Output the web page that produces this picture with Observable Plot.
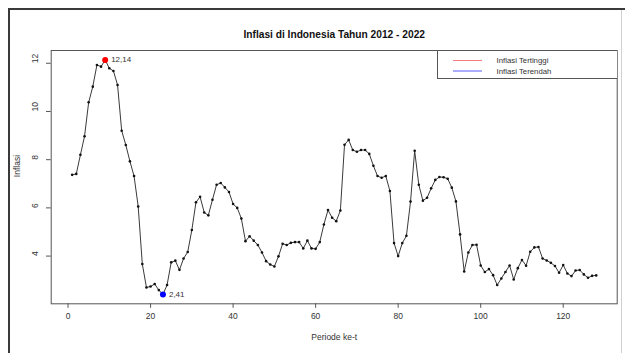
<!DOCTYPE html>
<html>
<head>
<meta charset="utf-8">
<script src="https://cdn.jsdelivr.net/npm/d3@7"></script>
<script src="https://cdn.jsdelivr.net/npm/@observablehq/plot@0.6"></script>
<style>
  html, body { margin: 0; padding: 0; background: #fff; }
  #wrap { position: relative; width: 625px; height: 353px; overflow: hidden; font-family: "Liberation Sans", Arial, sans-serif; }
  #outer { position: absolute; left: 8px; top: 8px; right: -10px; bottom: -10px; border-left: 2px solid #3a3a3a; border-top: 2px solid #3a3a3a; pointer-events: none; }
  #rline { position: absolute; left: 621px; top: 10px; width: 1px; bottom: 0; background: #d0d0d0; }
  #legend { position: absolute; left: 436.5px; top: 50px; width: 180px; height: 29px; border: 1px solid #555; border-right: none; box-sizing: border-box; background: #fff; }
  .lrow { position: absolute; left: 0; height: 11px; font-size: 7.8px; color: #333; line-height: 11px; }
  .lrow .sw { position: absolute; left: 15px; width: 29px; }
  .lrow .lt { position: absolute; left: 59px; white-space: nowrap; }
</style>
</head>
<body>
<div id="wrap">
  <div id="chart"></div>
  <div id="outer"></div>
  <div id="rline"></div>
  <div id="legend"></div>
</div>
<script>
const title = "Inflasi di Indonesia Tahun 2012 - 2022";
const xLabel = "Periode ke-t";
const yLabel = "Inflasi";
const xTicks = [0, 20, 40, 60, 80, 100, 120];
const yTicks = [4, 6, 8, 10, 12];
const legendLabels = ["Inflasi Tertinggi", "Inflasi Terendah"];
const legendColors = ["#f37c7c", "#adadff"];

const inflasi = [
  7.37, 7.41, 8.20, 8.97, 10.38, 11.03, 11.93, 11.86, 12.14, 11.79,
  11.68, 11.10, 9.20, 8.61, 7.93, 7.32, 6.06, 3.67, 2.70, 2.74,
  2.84, 2.59, 2.41, 2.80, 3.74, 3.81, 3.43, 3.90, 4.17, 5.08,
  6.23, 6.46, 5.81, 5.69, 6.34, 6.96, 7.03, 6.85, 6.66, 6.16,
  6.00, 5.56, 4.62, 4.82, 4.64, 4.46, 4.15, 3.79, 3.65, 3.57,
  3.99, 4.51, 4.46, 4.55, 4.58, 4.58, 4.32, 4.64, 4.32, 4.30,
  4.58, 5.31, 5.91, 5.59, 5.45, 5.89, 8.62, 8.82, 8.40, 8.33,
  8.40, 8.40, 8.24, 7.75, 7.32, 7.25, 7.32, 6.70, 4.54, 4.00,
  4.54, 4.84, 6.26, 8.37, 6.96, 6.30, 6.42, 6.81, 7.16, 7.28,
  7.27, 7.21, 6.84, 6.27, 4.90, 3.36, 4.15, 4.46, 4.47, 3.61,
  3.34, 3.46, 3.21, 2.80, 3.07, 3.34, 3.61, 3.03, 3.50, 3.84,
  3.60, 4.18, 4.36, 4.38, 3.90, 3.82, 3.72, 3.59, 3.31, 3.63,
  3.28, 3.17, 3.40, 3.42, 3.24, 3.10, 3.18, 3.20
];

const data = inflasi.map((v, i) => ({periode: i + 1, inflasi: v}));
const maxPt = data[d3.maxIndex(data, d => d.inflasi)];
const minPt = data[d3.minIndex(data, d => d.inflasi)];
const fmt = v => v.toFixed(2).replace(".", ",");

// R-style 4% axis extension
const xExt = d3.extent(data, d => d.periode);
const yExt = d3.extent(data, d => d.inflasi);
const xPad = (xExt[1] - xExt[0]) * 0.04;
const yPad = (yExt[1] - yExt[0]) * 0.04;

const chart = Plot.plot({
  width: 625,
  height: 353,
  marginLeft: 50.7,
  marginRight: 8.3,
  marginTop: 50,
  marginBottom: 49.7,
  style: {fontFamily: "'Liberation Sans', Arial, sans-serif", fontSize: "8.5px", color: "#333", background: "transparent"},
  x: {type: "linear", domain: [xExt[0] - xPad, xExt[1] + xPad]},
  y: {type: "linear", domain: [yExt[0] - yPad, yExt[1] + yPad]},
  marks: [
    Plot.frame({stroke: "#555", strokeWidth: 1}),
    Plot.axisX({ticks: xTicks, tickSize: 4.5, tickPadding: 5, label: null, fontSize: 8.5, stroke: "#555", fill: "#333"}),
    Plot.axisY({ticks: yTicks, tickSize: 4.7, tickFormat: () => "", label: null, stroke: "#555"}),
    Plot.text(yTicks, {y: d => d, text: d => String(d), frameAnchor: "left", dx: -15.7, rotate: -90, fontSize: 8.5, fill: "#333"}),
    Plot.line(data, {x: "periode", y: "inflasi", stroke: "#3a3a3a", strokeWidth: 1}),
    Plot.dot(data, {x: "periode", y: "inflasi", r: 1.3, fill: "#111", stroke: null}),
    Plot.dot([maxPt], {x: "periode", y: "inflasi", r: 3, fill: "red", stroke: null}),
    Plot.dot([minPt], {x: "periode", y: "inflasi", r: 3, fill: "blue", stroke: null}),
    Plot.text([maxPt], {x: "periode", y: "inflasi", text: d => fmt(d.inflasi), dx: 6, textAnchor: "start", fontSize: 8, fill: "#333"}),
    Plot.text([minPt], {x: "periode", y: "inflasi", text: d => fmt(d.inflasi), dx: 6, textAnchor: "start", fontSize: 8, fill: "#333"}),
    Plot.text([title], {frameAnchor: "top", dy: -20, fontSize: 10.2, fontWeight: "bold", fill: "#111"}),
    Plot.text([xLabel], {frameAnchor: "bottom", dy: 36, fontSize: 8.5, fill: "#333"}),
    Plot.text([yLabel], {frameAnchor: "left", dx: -34, rotate: -90, fontSize: 8.5, fill: "#333"})
  ]
});
document.getElementById("chart").appendChild(chart);

const legend = document.getElementById("legend");
legendLabels.forEach((lab, i) => {
  const row = document.createElement("div");
  row.className = "lrow";
  row.style.top = (3.5 + i * 11) + "px";
  const sw = document.createElement("div");
  sw.className = "sw";
  const thick = i === 0 ? 1 : 2.5;
  sw.style.height = thick + "px";
  sw.style.top = (5.5 - thick / 2) + "px";
  sw.style.background = legendColors[i];
  const lt = document.createElement("div");
  lt.className = "lt";
  lt.textContent = lab;
  row.appendChild(sw);
  row.appendChild(lt);
  legend.appendChild(row);
});
</script>
</body>
</html>
